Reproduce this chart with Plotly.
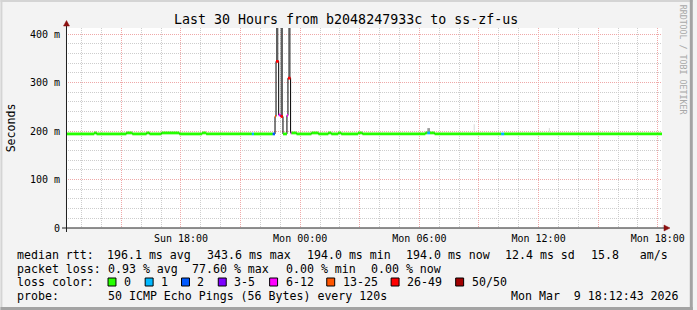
import plotly.graph_objects as go
import pandas as pd

# ---------------- data ----------------
t_start = "2026-03-08 12:12:43"
t_end = "2026-03-09 18:12:43"

median_t = [
    "2026-03-08 12:12", "2026-03-08 13:38", "2026-03-08 13:45", "2026-03-08 15:15",
    "2026-03-08 15:33", "2026-03-08 16:16", "2026-03-08 16:25", "2026-03-08 17:01",
    "2026-03-08 17:55", "2026-03-08 19:04", "2026-03-08 19:16", "2026-03-08 21:34",
    "2026-03-08 21:40", "2026-03-08 22:37", "2026-03-08 22:44", "2026-03-08 22:47",
    "2026-03-08 22:55", "2026-03-08 23:01", "2026-03-08 23:08", "2026-03-08 23:20",
    "2026-03-08 23:23", "2026-03-08 23:31", "2026-03-08 23:33", "2026-03-08 23:49",
    "2026-03-09 00:34", "2026-03-09 00:55", "2026-03-09 01:25", "2026-03-09 01:34",
    "2026-03-09 01:55", "2026-03-09 02:04", "2026-03-09 02:55", "2026-03-09 03:08",
    "2026-03-09 06:18", "2026-03-09 06:24", "2026-03-09 06:32", "2026-03-09 06:46",
    "2026-03-09 10:07", "2026-03-09 10:16",
]
median_ms = [
    194, 196, 194, 196,
    194, 196, 194, 196,
    194, 196, 194, 194,
    194, 194, 230, 343.6,
    233, 230, 194, 232,
    309, 196, 196, 194,
    196, 194, 196, 194,
    196, 194, 196, 194,
    196, 196, 196, 194,
    194, 194,
]
median_loss = [
    0, 0, 0, 0,
    0, 0, 0, 0,
    0, 0, 0, 1,
    0, 2, 5, 6,
    4, 6, 0, 4,
    6, 4, 0, 0,
    0, 0, 0, 0,
    0, 0, 0, 0,
    0, 1, 0, 0,
    1, 0,
]

smoke_t0 = ["2026-03-08 22:47", "2026-03-08 23:01", "2026-03-08 23:24", "2026-03-09 06:24",
            "2026-03-09 08:44", "2026-03-09 12:31"]
smoke_t1 = ["2026-03-08 22:54", "2026-03-08 23:08", "2026-03-08 23:31", "2026-03-09 06:32",
            "2026-03-09 08:47", "2026-03-09 12:34"]
smoke_lo = [343.6, 230, 309, 196, 201, 199]
smoke_hi = [600, 600, 600, 206, 214, 206]
smoke_col = ["#5f5f5f", "#5f5f5f", "#5f5f5f", "#9a9a9a", "#d8d8d8", "#d8d8d8"]

loss_labels = ["0", "1", "2", "3-5", "6-12", "13-25", "26-49", "50/50"]
loss_colors = ["#26ff00", "#00b8ff", "#0059ff", "#7e00ff", "#ff00ff", "#ff5500", "#ff0000", "#a10000"]

x_tickvals = ["2026-03-08 15:00", "2026-03-08 18:00", "2026-03-08 21:00", "2026-03-09 00:00",
              "2026-03-09 03:00", "2026-03-09 06:00", "2026-03-09 09:00", "2026-03-09 12:00",
              "2026-03-09 15:00", "2026-03-09 18:00"]
x_ticktext = ["", "Sun 18:00", "", "Mon 00:00", "", "Mon 06:00", "", "Mon 12:00", "", "Mon 18:00"]
y_tickvals = [0, 100, 200, 300, 400]
y_ticktext = ["0", "100 m", "200 m", "300 m", "400 m"]

title_text = "Last 30 Hours from b2048247933c to ss-zf-us"
row_rtt = [("median rtt:", 16), ("196.1 ms avg", 106.7), ("343.6 ms max", 207.3),
           ("194.0 ms min", 307.3), ("194.0 ms now", 407.3), ("12.4 ms sd", 507),
           ("15.8   am/s", 594)]
row_loss = [("packet loss:", 16), ("0.93 % avg", 107.3), ("77.60 % max", 192.3),
            ("0.00 % min", 286), ("0.00 % now", 372.3)]
row_probe = [("probe:", 16), ("50 ICMP Echo Pings (56 Bytes) every 120s", 107.3),
             ("Mon Mar  9 18:12:43 2026", 512.7)]
box_px = [108.3, 145.7, 182.3, 219.3, 271, 328.5, 393.3, 458.3]

# ---------------- layout helpers ----------------
W, H = 697, 310
L, R, T, B = 66, 666, 28, 228
def px(x):
    return (x - L) / (R - L)
def py(y):
    return (B - y) / (B - T)

MONO = "DejaVu Sans Mono"
fig = go.Figure()

# smoke
for a, b, lo, hi, c in zip(smoke_t0, smoke_t1, smoke_lo, smoke_hi, smoke_col):
    fig.add_trace(go.Scatter(x=[a, b, b, a, a], y=[lo, lo, hi, hi, lo], mode="lines",
                             fill="toself", fillcolor=c, line=dict(width=0, color=c),
                             hoverinfo="skip", showlegend=False))

# median black step line
fig.add_trace(go.Scatter(x=median_t + [t_end], y=median_ms + [median_ms[-1]], mode="lines",
                         line=dict(color="#000000", width=1, shape="hv"),
                         hoverinfo="skip", showlegend=False))

# colored median segments by loss
ends = median_t[1:] + [t_end]
for k, col in enumerate(loss_colors):
    xs, ys = [], []
    for t0, t1, v, lo in zip(median_t, ends, median_ms, median_loss):
        if lo == k:
            xs += [t0, t1, None]
            ys += [v, v, None]
    if xs:
        fig.add_trace(go.Scatter(x=xs, y=ys, mode="lines", line=dict(color=col, width=2.8),
                                 hoverinfo="skip", showlegend=False))

shapes = []
annotations = []

def text(s, x, y, size=11.6, color="#000000", anchor="left", angle=0):
    annotations.append(dict(text=s.replace(" ", "\u00a0"), x=px(x), y=py(y), xref="paper",
                            yref="paper", xanchor=anchor, yanchor="middle", showarrow=False,
                            borderpad=0, textangle=angle,
                            font=dict(family=MONO, size=size, color=color)))

text(title_text, 347.5, 19.5, size=13.3, anchor="center")
text("Seconds", 11, 128, anchor="center", angle=-90)
text("RRDTOOL / TOBI OETIKER", 687.5, 60, size=8.3, color="#a8a8a8", anchor="center", angle=90)

for s, x in row_rtt:
    text(s, x, 254.5)
for s, x in row_loss:
    text(s, x, 268.5)
text("loss color:", 16, 282)
for bx, lab, col in zip(box_px, loss_labels, loss_colors):
    shapes.append(dict(type="rect", xref="paper", yref="paper", x0=px(bx), x1=px(bx + 8),
                       y0=py(286), y1=py(278), fillcolor=col, line=dict(color="#000000", width=1)))
    text(lab, bx + 15, 282)
for s, x in row_probe:
    text(s, x, 296)

# axis lines + arrows
shapes.append(dict(type="line", xref="paper", yref="paper", x0=px(62), x1=px(669),
                   y0=py(228), y1=py(228), line=dict(color="#202020", width=1)))
shapes.append(dict(type="line", xref="paper", yref="paper", x0=px(66.5), x1=px(66.5),
                   y0=py(232), y1=py(24), line=dict(color="#202020", width=1)))
shapes.append(dict(type="path", xref="paper", yref="paper", fillcolor="#8b1010",
                   line=dict(color="#8b1010", width=0.5),
                   path=f"M {px(63.5)} {py(26)} L {px(69.5)} {py(26)} L {px(66.5)} {py(20.5)} Z"))
shapes.append(dict(type="path", xref="paper", yref="paper", fillcolor="#8b1010",
                   line=dict(color="#8b1010", width=0.5),
                   path=f"M {px(668)} {py(225)} L {px(668)} {py(231)} L {px(674)} {py(228)} Z"))

# 3D frame
shapes.append(dict(type="rect", xref="paper", yref="paper", x0=px(0), x1=px(697), y0=py(0), y1=py(2),
                   fillcolor="#d4d4d4", line=dict(width=0), layer="below"))
shapes.append(dict(type="rect", xref="paper", yref="paper", x0=px(0), x1=px(2), y0=py(0), y1=py(310),
                   fillcolor="#d4d4d4", line=dict(width=0), layer="below"))
shapes.append(dict(type="rect", xref="paper", yref="paper", x0=px(0), x1=px(697), y0=py(307), y1=py(310),
                   fillcolor="#a3a3a3", line=dict(width=0), layer="below"))
shapes.append(dict(type="rect", xref="paper", yref="paper", x0=px(694), x1=px(697), y0=py(0), y1=py(310),
                   fillcolor="#a3a3a3", line=dict(width=0), layer="below"))

minor_grid = "#cdcdcd"
major_grid = "#efa8a8"

fig.update_layout(
    width=W, height=H,
    margin=dict(l=L, r=W - R, t=T, b=H - B, pad=0),
    paper_bgcolor="#f3f3f3", plot_bgcolor="#ffffff",
    showlegend=False,
    shapes=shapes, annotations=annotations,
    xaxis=dict(type="date", range=[t_start, t_end], tickvals=x_tickvals, ticktext=x_ticktext,
               showgrid=True, gridcolor=major_grid, griddash="1px,1px", gridwidth=1,
               minor=dict(dtick=3600000, tick0="2026-03-08 00:00", showgrid=True,
                          gridcolor=minor_grid, griddash="1px,1px", gridwidth=1),
               showline=False, zeroline=False, ticks="", ticklabelstandoff=3,
               tickfont=dict(family=MONO, size=10, color="#000000")),
    yaxis=dict(range=[0, 412.4], tickvals=y_tickvals, ticktext=y_ticktext,
               showgrid=True, gridcolor=major_grid, griddash="1px,1px", gridwidth=1,
               minor=dict(dtick=20, tick0=0, showgrid=True,
                          gridcolor=minor_grid, griddash="1px,1px", gridwidth=1),
               showline=False, zeroline=False, ticks="", ticklabelstandoff=5,
               tickfont=dict(family=MONO, size=10, color="#000000")),
)

fig.write_html("out.html")
